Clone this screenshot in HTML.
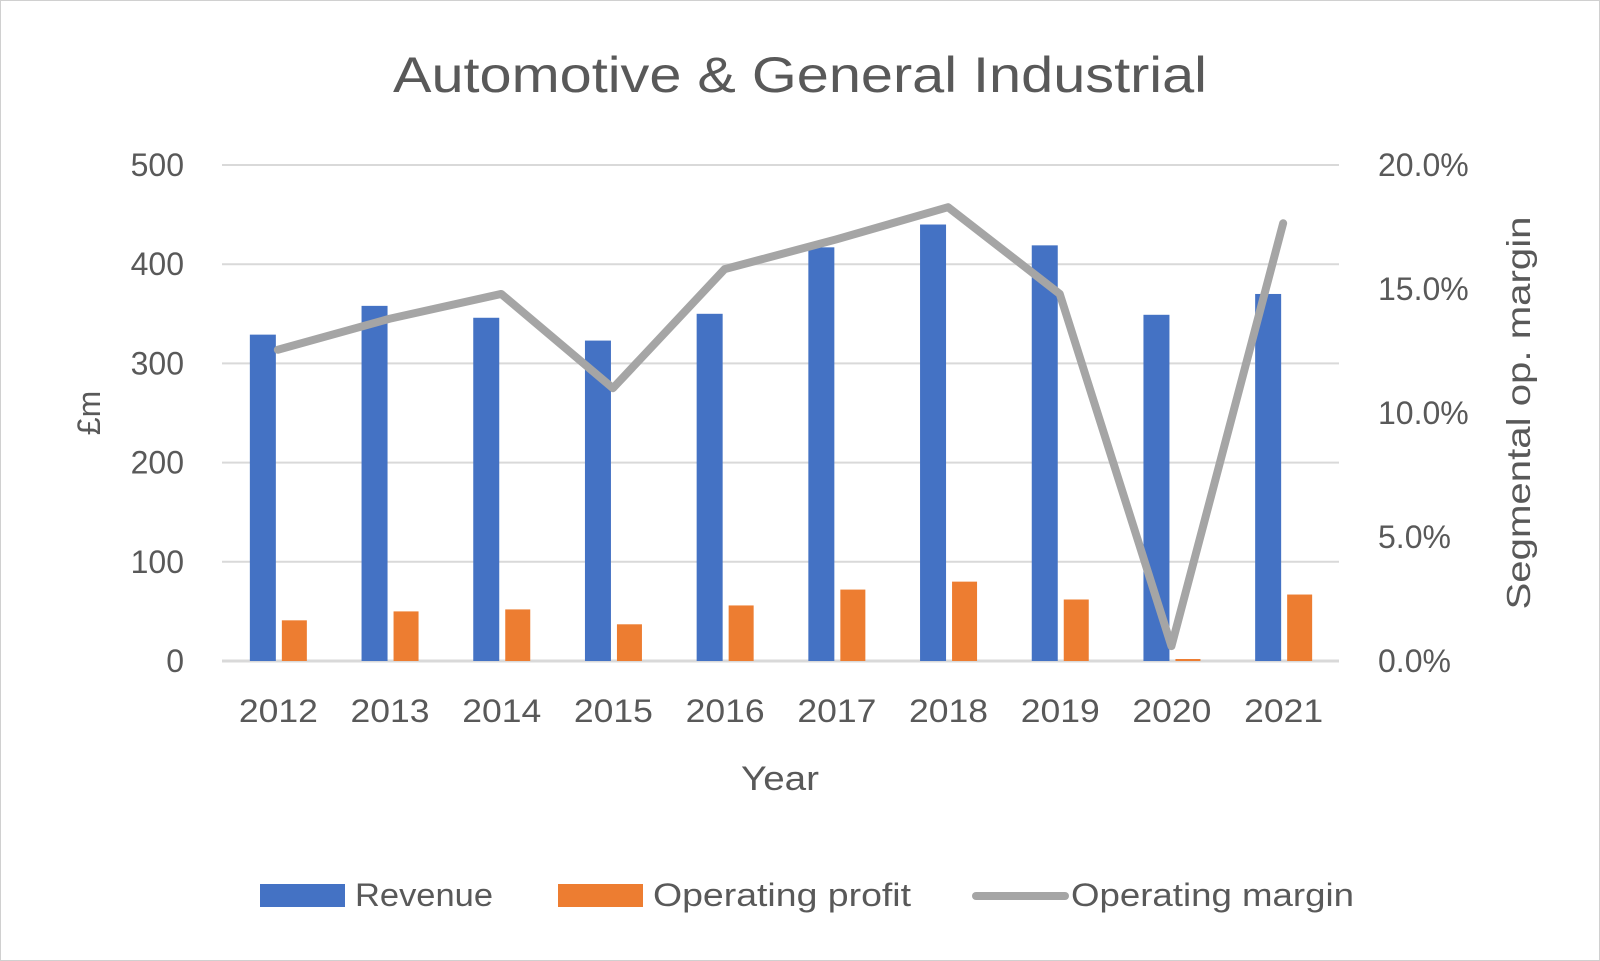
<!DOCTYPE html>
<html><head><meta charset="utf-8"><style>
html,body{margin:0;padding:0;background:#fff}
svg{display:block;font-family:"Liberation Sans",sans-serif}
</style></head><body>
<svg id="chart" width="1600" height="961" viewBox="0 0 1600 961">
<rect x="0.5" y="0.5" width="1599" height="960" fill="#fff" stroke="#d0d0d0"/>
<text x="393" y="92" font-size="50" fill="#595959" textLength="814" lengthAdjust="spacingAndGlyphs">Automotive &amp; General Industrial</text>
<g id="grid"></g><g id="bars"></g><g id="line"></g><g id="axes"></g>
<text transform="translate(100,413) rotate(-90)" text-anchor="middle" font-size="32" fill="#595959">£m</text>
<text transform="translate(1530,413) rotate(-90)" text-anchor="middle" font-size="33" fill="#595959" textLength="393" lengthAdjust="spacingAndGlyphs">Segmental op. margin</text>
<text x="741" y="790" font-size="34" fill="#595959" textLength="78" lengthAdjust="spacingAndGlyphs">Year</text>
<g>
<g><rect x="260" y="884" width="85" height="23" fill="#4472c4"/><text x="355" y="906" font-size="32" fill="#595959" textLength="138" lengthAdjust="spacingAndGlyphs">Revenue</text></g>
<g><rect x="558" y="884" width="85" height="23" fill="#ed7d31"/><text x="653" y="906" font-size="32" fill="#595959" textLength="258" lengthAdjust="spacingAndGlyphs">Operating profit</text></g>
<g><line x1="976" y1="896" x2="1065" y2="896" stroke="#a5a5a5" stroke-width="8" stroke-linecap="round"/><text x="1071" y="906" font-size="32" fill="#595959" textLength="283" lengthAdjust="spacingAndGlyphs">Operating margin</text></g>
</g>
</svg>
<script>
const years=["2012","2013","2014","2015","2016","2017","2018","2019","2020","2021"];
const revenue=[329,358,346,323,350,417,440,419,349,370];
const profit=[41,50,52,37,56,72,80,62,2,67];
const margin=[12.55,13.8,14.8,11.0,15.8,17.0,18.3,14.8,0.6,17.65];
const leftTicks=[0,100,200,300,400,500];
const rightTicks=["0.0%","5.0%","10.0%","15.0%","20.0%"];
const rightTickVals=[0,5,10,15,20];
const NS="http://www.w3.org/2000/svg";
const L=222,R=1339,T=165,B=661;
const cw=(R-L)/years.length;
const xc=i=>L+cw*(i+0.5);
const y1=v=>B-(v/500)*(B-T);
const y2=v=>B-(v/20)*(B-T);
function mk(tag,attrs,parent,txt){const e=document.createElementNS(NS,tag);for(const k in attrs)e.setAttribute(k,attrs[k]);if(txt!==undefined)e.textContent=txt;document.getElementById(parent).appendChild(e);return e;}
leftTicks.forEach(v=>{
 const g=mk('line',{x1:L,x2:R,y1:y1(v),y2:y1(v),stroke:'#d9d9d9','stroke-width':v===0?3:2},'grid');
 
 
 const t=mk('text',{x:184,y:y1(v)+11,'text-anchor':'end','font-size':32,fill:'#595959'},'axes',String(v));
 
 
});
rightTickVals.forEach((v,i)=>{
 const t=mk('text',{x:1378,y:y2(v)+11,'font-size':32,fill:'#595959'},'axes',rightTicks[i]);
 
 
});
years.forEach((yr,i)=>{
 const c=xc(i);
 const b=mk('rect',{x:c-28,y:y1(revenue[i]),width:26,height:B-y1(revenue[i]),fill:'#4472c4'},'bars');
 
 
 const o=mk('rect',{x:c+4,y:y1(profit[i]),width:25,height:B-y1(profit[i]),fill:'#ed7d31'},'bars');
 
 
 const t=mk('text',{x:c-39,y:722,'font-size':32,fill:'#595959',textLength:79,lengthAdjust:'spacingAndGlyphs'},'axes',yr);
 
 
});
const pts=margin.map((m,i)=>xc(i)+','+y2(m)).join(' ');
const pl=mk('polyline',{points:pts,fill:'none',stroke:'#a5a5a5','stroke-width':8,'stroke-linecap':'round','stroke-linejoin':'round'},'line');


</script>
</body></html>
